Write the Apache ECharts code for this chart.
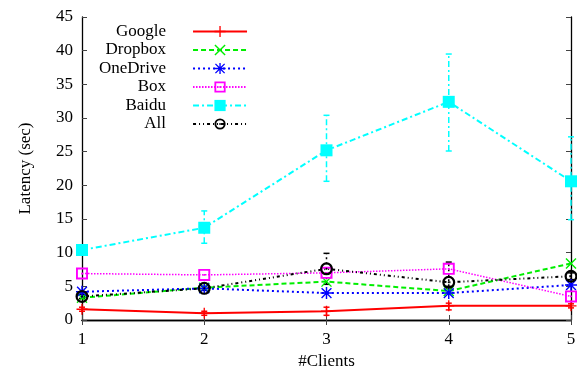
<!DOCTYPE html>
<html>
<head>
<meta charset="utf-8">
<script src="https://cdn.jsdelivr.net/npm/echarts@6/dist/echarts.min.js"></script>
<style>
  html, body { margin: 0; padding: 0; background: #fff; }
  #chart { width: 577px; height: 370px; }
</style>
</head>
<body>
<div id="chart"></div>
<script>
// Latency vs number of clients, per cloud service
const clients = [1, 2, 3, 4, 5];

const google = [1.6, 1.0, 1.3, 2.1, 2.1];
const dropbox = [3.3, 4.8, 5.7, 4.3, 8.4];
const onedrive = [4.2, 4.7, 4.0, 4.0, 5.2];
const box = [6.9, 6.7, 7.0, 7.6, 3.5];
const baidu = [10.4, 13.7, 25.2, 32.4, 20.6];
const all = [3.5, 4.7, 7.6, 5.6, 6.5];

// error bars (low / high)
const googleLow = [1.3, 0.7, 0.7, 1.5, 1.8];
const googleHigh = [1.9, 1.3, 1.9, 2.5, 2.4];
const baiduLow = [10.0, 11.4, 20.6, 25.1, 14.9];
const baiduHigh = [10.8, 16.2, 30.4, 39.5, 27.2];
const allLow = [3.2, 4.4, 5.3, 5.0, 6.0];
const allHigh = [3.8, 5.0, 9.9, 8.6, 7.0];

const yTicks = [0, 5, 10, 15, 20, 25, 30, 35, 40, 45];

const font = 'Liberation Serif';
const fontSize = 17;

const sym = {
    plus: 'path://M0,4.4L10,4.4L10,5.6L0,5.6ZM4.4,0L5.6,0L5.6,10L4.4,10Z',
    cross: 'path://M0.9,0L5,4.1L9.1,0L10,0.9L5.9,5L10,9.1L9.1,10L5,5.9L0.9,10L0,9.1L4.1,5L0,0.9Z',
    star: 'path://M0,4.4L10,4.4L10,5.6L0,5.6ZM4.4,0L5.6,0L5.6,10L4.4,10ZM1.3,0.5L5,4.2L8.7,0.5L9.5,1.3L5.8,5L9.5,8.7L8.7,9.5L5,5.8L1.3,9.5L0.5,8.7L4.2,5L0.5,1.3Z',
    openSquare: 'path://M0,0L10,0L10,10L0,10ZM1.6,1.6L1.6,8.4L8.4,8.4L8.4,1.6ZM4.3,4.3L5.7,4.3L5.7,5.7L4.3,5.7Z',
    square: 'rect',
    openCircle: 'path://M5,0A5,5 0 1,1 5,10A5,5 0 1,1 5,0ZM5,1.7A3.3,3.3 0 1,0 5,8.3A3.3,3.3 0 1,0 5,1.7ZM5,4.2A0.8,0.8 0 1,1 5,5.8A0.8,0.8 0 1,1 5,4.2Z'
};

function lineSeries(name, values, color, dash, symbol, size, width) {
    return {
        name: name,
        type: 'line',
        data: clients.map((c, i) => [c, values[i]]),
        symbol: symbol,
        symbolSize: size,
        showAllSymbol: true,
        itemStyle: { color: color },
        lineStyle: { color: color, width: width, type: dash },
        z: 3
    };
}

function errorSeries(low, high, color, dash) {
    return {
        type: 'custom',
        data: clients.map((c, i) => [c, low[i], high[i]]),
        z: 2,
        renderItem: (params, api) => {
            const x = api.value(0);
            const lo = api.coord([x, api.value(1)]);
            const hi = api.coord([x, api.value(2)]);
            const style = { stroke: color, lineWidth: 1.5, lineDash: dash };
            const capStyle = { stroke: color, lineWidth: 1.5 };
            const w = 3;
            return {
                type: 'group',
                children: [
                    { type: 'line', shape: { x1: lo[0], y1: lo[1], x2: hi[0], y2: hi[1] }, style: style },
                    { type: 'line', shape: { x1: lo[0] - w, y1: lo[1], x2: lo[0] + w, y2: lo[1] }, style: capStyle },
                    { type: 'line', shape: { x1: hi[0] - w, y1: hi[1], x2: hi[0] + w, y2: hi[1] }, style: capStyle }
                ]
            };
        }
    };
}

const axisCommon = {
    axisLine: { show: true, lineStyle: { color: '#000', width: 1.3 } },
    axisTick: { show: true, inside: true, length: 5, lineStyle: { color: '#444' } },
    splitLine: { show: false }
};

const chart = echarts.init(document.getElementById('chart'));

chart.setOption({
    animation: false,
    backgroundColor: '#fff',
    textStyle: { fontFamily: font },
    grid: { left: 82, right: 6, top: 17, bottom: 50, containLabel: false, outerBoundsMode: 'none' },
    legend: {
        data: ['Google', 'Dropbox', 'OneDrive', 'Box', 'Baidu', 'All'],
        orient: 'vertical',
        align: 'right',
        left: 94,
        top: 18,
        itemWidth: 54,
        itemHeight: 14,
        itemGap: 1.5,
        textStyle: { fontFamily: font, fontSize: fontSize, lineHeight: 14, color: '#000', padding: [0, 22, 0, 0] }
    },
    xAxis: [
        Object.assign({}, axisCommon, {
            type: 'value',
            min: 1, max: 5, interval: 1,
            name: '#Clients',
            nameLocation: 'middle',
            nameGap: 33,
            nameTextStyle: { fontFamily: font, fontSize: fontSize, color: '#000' },
            axisLabel: { fontFamily: font, fontSize: fontSize, color: '#000', margin: 11 }
        }),
        Object.assign({}, axisCommon, {
            type: 'value', position: 'top',
            min: 1, max: 5, interval: 1,
            axisLabel: { show: false }
        })
    ],
    yAxis: [
        Object.assign({}, axisCommon, {
            type: 'value',
            min: yTicks[0], max: yTicks[yTicks.length - 1], interval: 5,
            name: 'Latency (sec)',
            nameLocation: 'middle',
            nameGap: 48,
            nameTextStyle: { fontFamily: font, fontSize: fontSize, color: '#000' },
            axisLabel: { fontFamily: font, fontSize: fontSize, color: '#000', margin: 9 }
        }),
        Object.assign({}, axisCommon, {
            type: 'value', position: 'right',
            min: yTicks[0], max: yTicks[yTicks.length - 1], interval: 5,
            axisLabel: { show: false }
        })
    ],
    series: [
        errorSeries(googleLow, googleHigh, '#ff0000', null),
        errorSeries(baiduLow, baiduHigh, '#00ffff', [6, 3, 2, 3]),
        errorSeries(allLow, allHigh, '#000000', [2, 3]),
        lineSeries('Google', google, '#ff0000', 'solid', sym.plus, 11, 2),
        lineSeries('Dropbox', dropbox, '#00ee00', [5, 3], sym.cross, 11, 2),
        lineSeries('OneDrive', onedrive, '#0000ff', [2, 3], sym.star, 12, 2),
        lineSeries('Box', box, '#ff00ff', [1.5, 1.5], sym.openSquare, 12, 1.5),
        lineSeries('Baidu', baidu, '#00ffff', [6, 3, 2, 3], sym.square, 12, 2),
        lineSeries('All', all, '#000000', [3, 3, 1, 3, 1, 3], sym.openCircle, 13, 2)
    ]
});
</script>
</body>
</html>
